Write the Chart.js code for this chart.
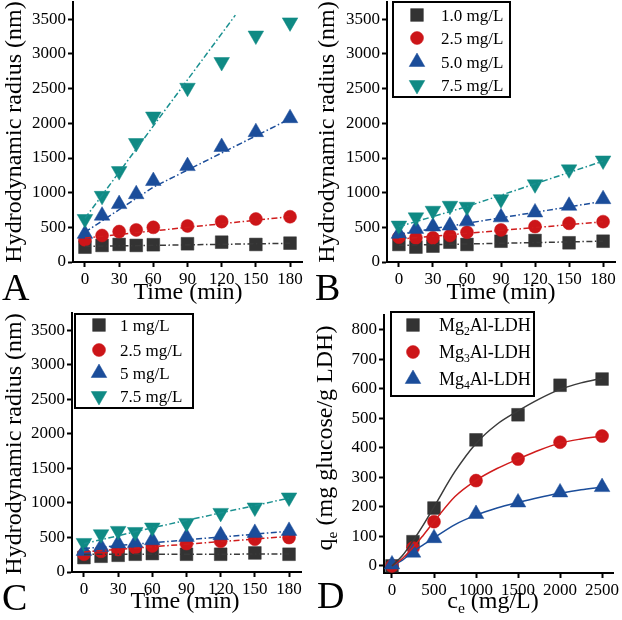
<!DOCTYPE html>
<html><head><meta charset="utf-8">
<script src="https://cdn.jsdelivr.net/npm/chart.js@4.4.0/dist/chart.umd.min.js"></script>
<style>
html,body{margin:0;padding:0;background:#fff;}
#wrap{position:relative;width:622px;height:620px;background:#fff;}
.p{position:absolute;width:311px;height:310px;}
.p canvas{display:block;}
</style></head><body>
<div id="wrap">
 <div class="p" style="left:0;top:0"><canvas id="cA" width="311" height="310"></canvas></div>
 <div class="p" style="left:311px;top:0"><canvas id="cB" width="311" height="310"></canvas></div>
 <div class="p" style="left:0;top:310px"><canvas id="cC" width="311" height="310"></canvas></div>
 <div class="p" style="left:311px;top:310px"><canvas id="cD" width="311" height="310"></canvas></div>
</div>
<script>
// ---------- data ----------
const timeMin = [0,15,30,45,60,90,120,150,180];
const timeTicks = [0,30,60,90,120,150,180];
const radiusTicks = [0,500,1000,1500,2000,2500,3000,3500];
const concTicks = [0,500,1000,1500,2000,2500];
const qTicks = [0,100,200,300,400,500,600,700,800];

const seriesB = ['1.0 mg/L','2.5 mg/L','5.0 mg/L','7.5 mg/L'];
const seriesC = ['1 mg/L','2.5 mg/L','5 mg/L','7.5 mg/L'];
const seriesD = ['Mg_2Al-LDH','Mg_3Al-LDH','Mg_4Al-LDH'];

// Panel A
const aR1  = [214,239,253,239,249,263,286,253,272];
const aR25 = [320,382,439,463,500,520,582,620,653];
const aR5  = [406,668,835,978,1168,1383,1659,1873,2074];
const aR75 = [620,954,1311,1716,2098,2513,2884,3266,3456];
const aFit1T = [0,180],   aFit1V = [225,270];
const aFit25T = [0,180],  aFit25V = [345,655];
const aFit5T = [0,60,180], aFit5V = [430,1080,2065];
const aFit75T = [0,132],  aFit75V = [630,3560];

// Panel B
const bR1  = [253,215,229,286,253,300,310,277,300];
const bR25 = [358,349,349,382,429,463,511,558,582];
const bR5  = [406,477,511,525,586,644,715,811,906];
const bR75 = [525,644,739,811,797,906,1121,1336,1464];
const bFit1T = [0,180],  bFit1V = [240,300];
const bFit25T = [0,180], bFit25V = [330,580];
const bFit5T = [0,180],  bFit5V = [400,875];
const bFit75T = [0,60,180], bFit75V = [510,800,1455];

// Panel C
const cR1  = [209,228,242,257,267,257,257,276,257];
const cR25 = [257,300,325,354,377,412,445,474,499];
const cR5  = [305,363,412,421,460,508,532,566,595];
const cR75 = [421,547,595,580,644,711,856,934,1079];
const cFit1T = [0,180],  cFit1V = [255,260];
const cFit25T = [0,180], cFit25V = [290,515];
const cFit5T = [0,180],  cFit5V = [340,590];
const cFit75T = [0,60,180], cFit75V = [410,640,1070];

// Panel D
const ceConc = [0,250,500,1000,1500,2000,2500];
const qMg2 = [0,82,196,427,512,612,633];
const qMg3 = [0,61,150,289,362,419,440];
const qMg4 = [5,45,94,176,215,249,267];
const curveC = [0,125,250,375,500,750,1000,1250,1500,1750,2000,2250,2500];
const curveMg2 = [0,35,85,140,200,320,415,480,525,565,598,620,636];
const curveMg3 = [0,25,62,105,150,235,290,330,362,392,416,430,440];
const curveMg4 = [0,20,48,72,95,140,172,196,215,232,246,258,267];

// ---------- style ----------
const FAM = '"Liberation Serif","Times New Roman",serif';
const colBlack = '#333333', colRed = '#cc1518', colBlue = '#1b4d9a', colTeal = '#0f8a84';
const lineBlack = '#3a3a3a', lineRed = '#d01c1c', lineBlue = '#1b4d9a', lineTeal = '#1a9090';

function pts(xs, ys){ return xs.map((x,i)=>({x:x, y:ys[i]})); }
function sc(label, xs, ys, style, color, r, rot, order){
  return {label:label, data:pts(xs,ys), showLine:false, pointStyle:style, pointRadius:r, pointHoverRadius:r,
    rotation:rot||0, backgroundColor:color, borderColor:color, borderWidth:0.5, clip:false, order:order};
}
function fit(xs, ys, color, dashed){
  return {label:'#fit', data:pts(xs,ys), showLine:true, pointRadius:0, pointHoverRadius:0, borderColor:color,
    backgroundColor:color, borderWidth:1.5, borderDash: dashed ? [6,2.5,1.5,2.5] : [], tension:0,
    cubicInterpolationMode: dashed ? 'default' : 'monotone', fill:false, clip:false, order:0};
}
function timeSets(labels, r1, r25, r5, r75, f){
  return [
    sc(labels[0], timeMin, r1, 'rect', colBlack, 9, 0, 4),
    sc(labels[1], timeMin, r25, 'circle', colRed, 6.5, 0, 3),
    sc(labels[2], timeMin, r5, 'triangle', colBlue, 9, 0, 2),
    sc(labels[3], timeMin, r75, 'triangle', colTeal, 9, 180, 1),
    fit(f[0], f[1], lineBlack, true),
    fit(f[2], f[3], lineRed, true),
    fit(f[4], f[5], lineBlue, true),
    fit(f[6], f[7], lineTeal, true)
  ];
}

function parseRich(str){
  const segs = []; let buf = '';
  for (let i=0;i<str.length;i++){
    if (str[i]==='_' && i+1<str.length){ if(buf){segs.push({t:buf});buf='';} segs.push({t:str[i+1],sub:true}); i++; }
    else buf += str[i];
  }
  if (buf) segs.push({t:buf});
  return segs;
}
function drawRich(ctx, str, x, y, size, align, rotate){
  const segs = parseRich(str);
  ctx.save();
  ctx.translate(x,y);
  if (rotate) ctx.rotate(rotate);
  ctx.textBaseline = 'alphabetic'; ctx.textAlign = 'left'; ctx.fillStyle = '#000';
  let total = 0;
  segs.forEach(s=>{ ctx.font = (s.sub?size*0.65:size)+'px '+FAM; total += ctx.measureText(s.t).width; });
  let cx = align==='center' ? -total/2 : 0;
  segs.forEach(s=>{
    const sz = s.sub?size*0.65:size;
    ctx.font = sz+'px '+FAM;
    ctx.fillText(s.t, cx, s.sub ? size*0.22 : 0);
    cx += ctx.measureText(s.t).width;
  });
  ctx.restore();
}

const decoPlugin = {
  id:'deco',
  afterDraw(chart, args, opts){
    const ctx = chart.ctx;
    (opts.texts||[]).forEach(t=>drawRich(ctx, t.text, t.x, t.y, t.size, t.align, t.rotate));
    const lg = opts.box;
    if (lg){
      ctx.save();
      ctx.fillStyle = '#fff'; ctx.fillRect(lg.x, lg.y, lg.w, lg.h);
      ctx.lineWidth = 2; ctx.strokeStyle = '#000'; ctx.setLineDash([]);
      ctx.strokeRect(lg.x, lg.y, lg.w, lg.h);
      const items = chart.data.datasets.filter(d=>d.label[0] !== '#');
      items.forEach((d,i)=>{
        const cy = lg.rowY[i];
        ctx.fillStyle = d.backgroundColor; ctx.strokeStyle = d.borderColor; ctx.lineWidth = d.borderWidth;
        Chart.helpers.drawPoint(ctx, {pointStyle:d.pointStyle, rotation:d.rotation, radius:d.pointRadius, borderWidth:d.borderWidth}, lg.markerX, cy);
        drawRich(ctx, d.label, lg.textX, cy + lg.size*0.33, lg.size, 'left', 0);
      });
      ctx.restore();
    }
  }
};

function axisOpts(range, ticksArr, fitFn){
  return {
    type:'linear', min:range[0], max:range[1],
    afterBuildTicks: s=>{ s.ticks = ticksArr.map(v=>({value:v})); },
    afterFit: fitFn,
    grid:{display:true, drawOnChartArea:false, drawTicks:true, tickLength:5, tickWidth:2, tickColor:'#000'},
    border:{display:true, color:'#000', width:2},
    ticks:{color:'#000', font:{family:FAM, size:17}, padding:2, maxRotation:0, autoSkip:false,
      callback: v=>String(v)}
  };
}

function makeChart(id, datasets, xr, yr, xT, yT, area, deco){
  new Chart(document.getElementById(id), {
    type:'line',
    data:{datasets:datasets},
    options:{
      responsive:false, animation:false, devicePixelRatio:1, events:[],
      layout:{padding:{left:0, top:area.top, right:311-area.right, bottom:0}, autoPadding:false},
      plugins:{legend:{display:false}, tooltip:{enabled:false}, deco:deco},
      scales:{
        x: axisOpts(xr, xT, s=>{ s.height = 310-area.bottom; s.paddingLeft=0; s.paddingRight=0; }),
        y: axisOpts(yr, yT, s=>{ s.width = area.left; s.paddingTop=0; s.paddingBottom=0; })
      }
    },
    plugins:[decoPlugin]
  });
}

const timeRange = [-10.5, 190.5];
const radRange = [0, 3750];
const yTitle = 'Hydrodynamic radius (nm)';
const xTitle = 'Time (min)';

makeChart('cA', timeSets(seriesB, aR1, aR25, aR5, aR75, [aFit1T,aFit1V,aFit25T,aFit25V,aFit5T,aFit5V,aFit75T,aFit75V]),
  timeRange, radRange, timeTicks, radiusTicks, {left:73, right:302, top:2, bottom:262},
  {texts:[
    {text:yTitle, x:21, y:132, size:24, align:'center', rotate:-Math.PI/2},
    {text:xTitle, x:188, y:299, size:24, align:'center'},
    {text:'A', x:2, y:300, size:38, align:'left'}
  ]});

makeChart('cB', timeSets(seriesB, bR1, bR25, bR5, bR75, [bFit1T,bFit1V,bFit25T,bFit25V,bFit5T,bFit5V,bFit75T,bFit75V]),
  timeRange, radRange, timeTicks, radiusTicks, {left:76, right:304, top:2, bottom:262},
  {texts:[
    {text:yTitle, x:23, y:132, size:24, align:'center', rotate:-Math.PI/2},
    {text:xTitle, x:190, y:299, size:24, align:'center'},
    {text:'B', x:4, y:300, size:38, align:'left'}
  ], box:{x:82, y:2, w:117, h:95, rowY:[15,38,62,85], markerX:106, textX:130, size:17}});

makeChart('cC', timeSets(seriesC, cR1, cR25, cR5, cR75, [cFit1T,cFit1V,cFit25T,cFit25V,cFit5T,cFit5V,cFit75T,cFit75V]),
  timeRange, radRange, timeTicks, radiusTicks, {left:72, right:301, top:3, bottom:262},
  {texts:[
    {text:yTitle, x:21, y:134, size:24, align:'center', rotate:-Math.PI/2},
    {text:xTitle, x:185, y:298, size:24, align:'center'},
    {text:'C', x:2, y:300, size:38, align:'left'}
  ], box:{x:75, y:4, w:118, h:94, rowY:[15,40,63,86], markerX:99, textX:120, size:17}});

makeChart('cD', [
    sc(seriesD[0], ceConc, qMg2, 'rect', colBlack, 9, 0, 3),
    sc(seriesD[1], ceConc, qMg3, 'circle', colRed, 6.5, 0, 2),
    sc(seriesD[2], ceConc, qMg4, 'triangle', colBlue, 9, 0, 1),
    fit(curveC, curveMg2, lineBlack, false),
    fit(curveC, curveMg3, lineRed, false),
    fit(curveC, curveMg4, lineBlue, false)
  ],
  [-95, 2630], [-24, 850], concTicks, qTicks, {left:73, right:302, top:5, bottom:263},
  {texts:[
    {text:'q_e (mg glucose/g LDH)', x:21, y:128, size:24, align:'center', rotate:-Math.PI/2},
    {text:'c_e (mg/L)', x:182, y:298, size:24, align:'center'},
    {text:'D', x:6, y:298, size:38, align:'left'}
  ], box:{x:80, y:2, w:143, h:84, rowY:[15,42,69], markerX:102, textX:128, size:18}});
</script>
</body></html>
